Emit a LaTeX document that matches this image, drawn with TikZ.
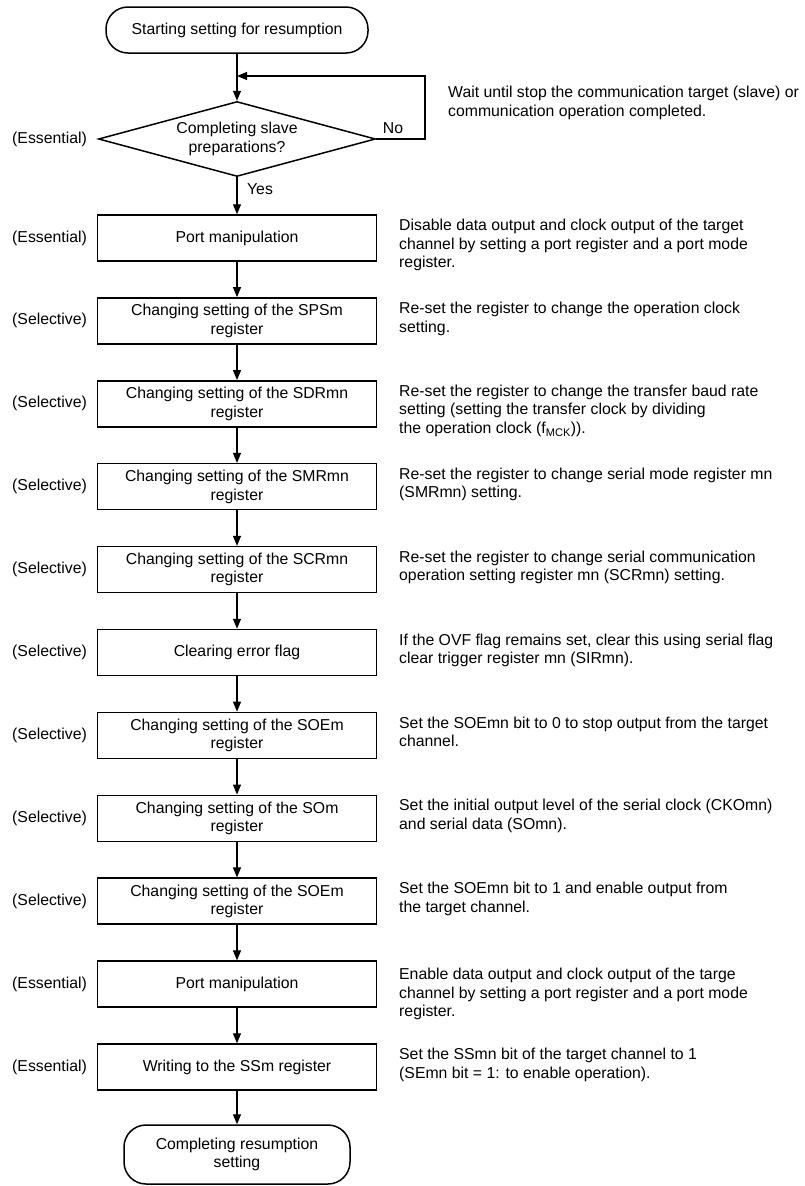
\documentclass[tikz,border=0pt]{standalone}
\usepackage{fontspec}
\setmainfont{Liberation Sans}
\usetikzlibrary{shapes.geometric,arrows.meta}
\begin{document}
\begin{tikzpicture}[x=1pt,y=-1pt,
  every node/.style={font=\fontsize{15.8}{18.5}\selectfont},
  proc/.style={draw,line width=1.5pt,minimum width=279pt,minimum height=46pt,inner sep=0pt,align=center},
  term/.style={draw,line width=1.5pt,rounded corners=22pt,inner sep=0pt,align=center},
  dec/.style={draw,diamond,line width=1.5pt,aspect=3.69,minimum width=277pt,minimum height=75pt,inner sep=0pt,align=center},
  note/.style={anchor=north west,align=left,inner sep=0pt},
  tag/.style={anchor=west,inner sep=0pt},
  flow/.style={line width=1.2pt,-{Triangle[length=10pt,width=8pt]}},
]
\useasboundingbox (0,0) rectangle (804,1186);

\node[term,minimum width=262pt,minimum height=46pt] (start) at (237,30) {Starting setting for resumption};
\node[dec] (d) at (237,139) {Completing slave\\preparations?};
\node[tag] (td) at (12,139) {(Essential)};
\node[inner sep=0pt] (no) at (393,128) {No};
\node[inner sep=0pt] (yes) at (260,189) {Yes};
\node[note] (nd) at (448,86) {Wait until stop the communication target (slave) or\\communication operation completed.};

\coordinate (nr) at (425,139);
\coordinate (nt) at (425,76);
\coordinate (nj) at (237,76);

\node[proc] (p0) at (237,238.0) {Port manipulation};
\node[proc] (p1) at (237,320.9) {Changing setting of the SPSm\\register};
\node[proc] (p2) at (237,403.8) {Changing setting of the SDRmn\\register};
\node[proc] (p3) at (237,486.7) {Changing setting of the SMRmn\\register};
\node[proc] (p4) at (237,569.6) {Changing setting of the SCRmn\\register};
\node[proc] (p5) at (237,652.5) {Clearing error flag};
\node[proc] (p6) at (237,735.4) {Changing setting of the SOEm\\register};
\node[proc] (p7) at (237,818.3) {Changing setting of the SOm\\register};
\node[proc] (p8) at (237,901.2) {Changing setting of the SOEm\\register};
\node[proc] (p9) at (237,984.1) {Port manipulation};
\node[proc] (p10) at (237,1067.0) {Writing to the SSm register};
\node[term,minimum width=226pt,minimum height=59pt] (end) at (237,1154.5) {Completing resumption\\setting};

\node[tag] (t0) at (12,238.0) {(Essential)};
\node[tag] (t1) at (12,320.9) {(Selective)};
\node[tag] (t2) at (12,403.8) {(Selective)};
\node[tag] (t3) at (12,486.7) {(Selective)};
\node[tag] (t4) at (12,569.6) {(Selective)};
\node[tag] (t5) at (12,652.5) {(Selective)};
\node[tag] (t6) at (12,735.4) {(Selective)};
\node[tag] (t7) at (12,818.3) {(Selective)};
\node[tag] (t8) at (12,901.2) {(Selective)};
\node[tag] (t9) at (12,984.1) {(Essential)};
\node[tag] (t10) at (12,1067.0) {(Essential)};

\node[note] (n0) at (399,219.0) {Disable data output and clock output of the target\\channel by setting a port register and a port mode\\register.};
\node[note] (n1) at (399,301.9) {Re-set the register to change the operation clock\\setting.};
\node[note] (n2) at (399,384.8) {Re-set the register to change the transfer baud rate\\setting (setting the transfer clock by dividing\\the operation clock (f\textsubscript{MCK})).};
\node[note] (n3) at (399,467.7) {Re-set the register to change serial mode register mn\\(SMRmn) setting.};
\node[note] (n4) at (399,550.6) {Re-set the register to change serial communication\\operation setting register mn (SCRmn) setting.};
\node[note] (n5) at (399,633.5) {If the OVF flag remains set, clear this using serial flag\\clear trigger register mn (SIRmn).};
\node[note] (n6) at (399,716.4) {Set the SOEmn bit to 0 to stop output from the target\\channel.};
\node[note] (n7) at (399,799.3) {Set the initial output level of the serial clock (CKOmn)\\and serial data (SOmn).};
\node[note] (n8) at (399,882.2) {Set the SOEmn bit to 1 and enable output from\\the target channel.};
\node[note] (n9) at (399,968.0) {Enable data output and clock output of the targe\\channel by setting a port register and a port mode\\register.};
\node[note] (n10) at (399,1048.0) {Set the SSmn bit of the target channel to 1\\(SEmn bit = 1: to enable operation).};

\draw[flow] (start) -- (d);
\draw[flow] (d.east) -- (nr) -- (nt) -- (nj);
\draw[flow] (d) -- (p0);
\draw[flow] (p0) -- (p1);
\draw[flow] (p1) -- (p2);
\draw[flow] (p2) -- (p3);
\draw[flow] (p3) -- (p4);
\draw[flow] (p4) -- (p5);
\draw[flow] (p5) -- (p6);
\draw[flow] (p6) -- (p7);
\draw[flow] (p7) -- (p8);
\draw[flow] (p8) -- (p9);
\draw[flow] (p9) -- (p10);
\draw[flow] (p10) -- (end);
\end{tikzpicture}
\end{document}
